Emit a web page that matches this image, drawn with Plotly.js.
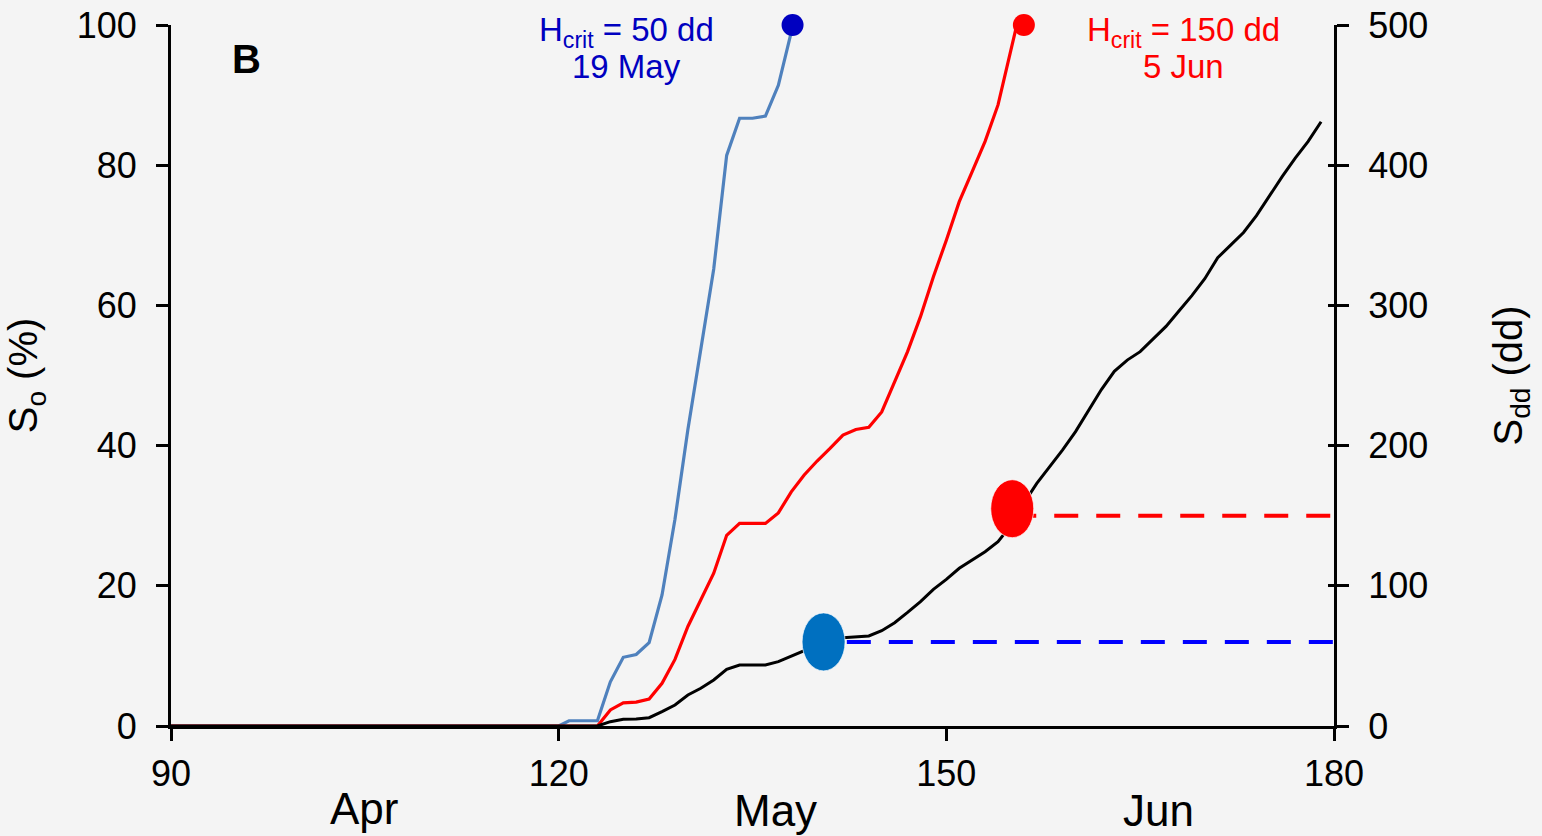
<!DOCTYPE html>
<html>
<head>
<meta charset="utf-8">
<script src="https://cdn.plot.ly/plotly-3.0.1.min.js"></script>
<style>html,body{margin:0;padding:0;background:#F4F4F4;}#chart{width:1542px;height:836px;}</style>
</head>
<body>
<div id="chart"></div>
<script>
// ---- Data ----
// Percentage of sites with onset (S_o, %) for Hcrit = 50 dd
const blueDays = [90, 120, 120.8, 123, 124, 125, 126, 127, 128, 129, 130, 131, 132, 133, 134, 135, 136, 137, 138];
const blueVals = [0, 0, 0.75, 0.75, 6.3, 9.8, 10.2, 11.9, 18.7, 29.5, 42.3, 53.7, 65.2, 81.4, 86.7, 86.7, 87.0, 91.4, 99.0];

// Percentage of sites with onset (S_o, %) for Hcrit = 150 dd
const redDays = [90, 123, 124, 125, 126, 127, 128, 129, 130, 131, 132, 133, 134, 135, 136, 137, 138, 139, 140, 141, 142, 143, 144, 145, 146, 147, 148, 149, 150, 151, 152, 153, 154, 155, 155.4];
const redVals = [0, 0, 2.3, 3.3, 3.4, 3.85, 6.1, 9.5, 14.2, 18.0, 21.8, 27.2, 28.9, 28.9, 28.9, 30.4, 33.4, 35.8, 37.8, 39.6, 41.5, 42.3, 42.6, 44.8, 49.1, 53.4, 58.4, 64.1, 69.3, 74.8, 79.1, 83.4, 88.6, 96.4, 99.6];

// Cumulative degree days (S_dd, dd) – right axis
const blackDays = [90, 123, 124, 125, 126, 127, 128, 129, 130, 131, 132, 133, 134, 135, 136, 137, 138, 139, 140, 141, 142, 143, 144, 145, 146, 147, 148, 149, 150, 151, 152, 153, 154, 155, 156, 157, 158, 159, 160, 161, 162, 163, 164, 165, 166, 167, 168, 169, 170, 171, 172, 173, 174, 175, 176, 177, 178, 179];
const blackVals = [0, 0, 3.1, 4.8, 5.0, 5.9, 10.2, 15, 22.1, 26.9, 32.8, 40.4, 43.5, 43.5, 43.5, 45.9, 49.9, 54, 58, 61.5, 63.0, 63.8, 64.2, 68, 73.7, 81, 88.7, 97.5, 104.6, 112.5, 118.4, 124.3, 131.5, 143, 159, 173, 185, 197, 210, 225, 240, 253, 261, 267, 276, 285, 296, 307, 319, 334, 343, 352, 364, 378, 392, 405, 417, 431];

// End-of-curve dots (day, S_o % = 100 %)
const endDotDays = [138.1, 156.0];
const endDotVals = [100, 100];

// Threshold crossings on the S_dd curve (day, dd) and dashed threshold lines
const crossDays = [140.5, 155.1];
const crossDd = [60, 155];
const dashStartDays = [142.3, 155.1];
const dashEndDay = 180;
const dashDd = [60, 150];

// Labels
const hcritLabels = ['H<sub>crit</sub> = 50 dd', 'H<sub>crit</sub> = 150 dd'];
const dateLabels = ['19 May', '5 Jun'];
const labelColors = ['#0000C0', '#FF0000'];
const dotColors = ['#0000C0', '#FF0000'];
const crossColors = ['#0070C0', '#FF0000'];
const dashColors = ['#0000FF', '#FF0000'];
const monthLabels = ['Apr', 'May', 'Jun'];
const monthPos = [104.9, 136.8, 166.4];
const xTicks = [90, 120, 150, 180];

const FONT = 'Arial, "Liberation Sans", sans-serif';

const traces = [
  {x: blackDays, y: blackVals, yaxis: 'y2', mode: 'lines', line: {color: '#000000', width: 3}, cliponaxis: false, hoverinfo: 'skip'},
  {x: blueDays, y: blueVals, mode: 'lines', line: {color: '#4F81BD', width: 3.2}, cliponaxis: false, hoverinfo: 'skip'},
  {x: redDays, y: redVals, mode: 'lines', line: {color: '#FF0000', width: 3.2}, cliponaxis: false, hoverinfo: 'skip'}
];
for (let i = 0; i < 2; i++) {
  traces.push({x: [dashStartDays[i], dashEndDay], y: [dashDd[i], dashDd[i]], yaxis: 'y2', mode: 'lines',
    line: {color: dashColors[i], width: 4, dash: '24px,18px'}, cliponaxis: false, hoverinfo: 'skip'});
  traces.push({x: [endDotDays[i]], y: [endDotVals[i]], mode: 'markers',
    marker: {color: dotColors[i], size: 22, line: {width: 0}}, cliponaxis: false, hoverinfo: 'skip'});
}
// helper trace for the inner part of the right-axis ticks
traces.push({x: [90], y: [0], yaxis: 'y3', mode: 'markers', marker: {opacity: 0}, hoverinfo: 'skip'});

const shapes = crossDays.map((d, i) => ({
  type: 'circle', xref: 'x', yref: 'y2', xsizemode: 'pixel', ysizemode: 'pixel',
  xanchor: d, yanchor: crossDd[i], x0: -21.5, x1: 21.5, y0: -29, y1: 29,
  fillcolor: crossColors[i], line: {color: 'rgba(255,255,255,0.7)', width: 1}, layer: 'above'
}));

const annotations = [
  {text: '<b>B</b>', xref: 'paper', yref: 'paper', x: 0.0645, y: 0.951, showarrow: false,
   font: {family: FONT, size: 40, color: '#000'}, xanchor: 'center', yanchor: 'middle'}
];
const labelX = [0.392, 0.871];
for (let i = 0; i < 2; i++) {
  annotations.push({text: hcritLabels[i], xref: 'paper', yref: 'paper', x: labelX[i], y: 0.9894,
    showarrow: false, font: {family: FONT, size: 33, color: labelColors[i]}, xanchor: 'center', yanchor: 'middle'});
  annotations.push({text: dateLabels[i], xref: 'paper', yref: 'paper', x: labelX[i], y: 0.941,
    showarrow: false, font: {family: FONT, size: 33, color: labelColors[i]}, xanchor: 'center', yanchor: 'middle'});
}
const monthY = [-0.118, -0.121, -0.12];
monthLabels.forEach((m, i) => {
  annotations.push({text: m, xref: 'x', yref: 'paper', x: monthPos[i], y: monthY[i], showarrow: false,
    font: {family: FONT, size: 44, color: '#000'}, xanchor: 'center', yanchor: 'middle'});
});

const axisCommon = {
  showline: true, linecolor: '#000', linewidth: 3, showgrid: false, zeroline: false,
  ticks: 'outside', ticklen: 12, tickwidth: 3, tickcolor: '#000',
  tickfont: {family: FONT, size: 36, color: '#000'}, fixedrange: true
};

const layout = {
  width: 1542, height: 836,
  margin: {l: 171, r: 208, t: 25, b: 110, autoexpand: false},
  paper_bgcolor: '#F4F4F4', plot_bgcolor: '#F4F4F4',
  showlegend: false,
  xaxis: Object.assign({}, axisCommon, {range: [90, 180], tickvals: xTicks, ticktext: xTicks.map(String), ticklabelstandoff: 2}),
  yaxis: Object.assign({}, axisCommon, {range: [0, 100], dtick: 20, tick0: 0, ticklabelstandoff: 12,
    title: {text: 'S<sub>o</sub> (%)', font: {family: FONT, size: 40, color: '#000'}, standoff: 27}}),
  yaxis2: Object.assign({}, axisCommon, {range: [0, 500], dtick: 100, tick0: 0, overlaying: 'y', side: 'right', ticklabelstandoff: 12,
    title: {text: 'S<sub>dd</sub> (dd)', font: {family: FONT, size: 40, color: '#000'}, standoff: 67}}),
  yaxis3: {range: [0, 500], dtick: 100, tick0: 0, overlaying: 'y', side: 'right', showline: false, showgrid: false, zeroline: false,
    ticks: 'inside', ticklen: 6, tickwidth: 3, tickcolor: '#000', showticklabels: false, fixedrange: true},
  shapes: shapes,
  annotations: annotations
};

Plotly.newPlot('chart', traces, layout, {displayModeBar: false, staticPlot: true});
</script>
</body>
</html>
